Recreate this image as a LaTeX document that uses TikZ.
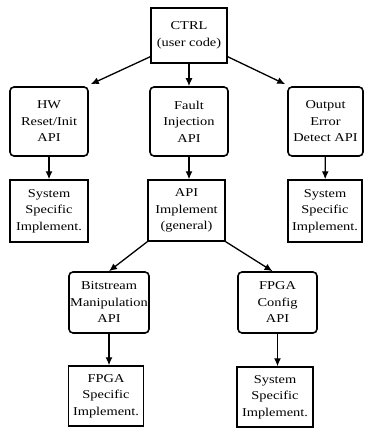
\documentclass[tikz,border=0pt]{standalone}
\usepackage{fontspec}
\setmainfont{Liberation Serif}[FakeStretch=1.2]
\usepackage{tikz}
\usetikzlibrary{arrows.meta}

\begin{document}
\begin{tikzpicture}[x=1pt, y=-1pt,
    box/.style={draw, line width=1.4pt, align=center, inner sep=1pt,
        font=\fontsize{12}{16.5}\selectfont},
    rbox/.style={box, rounded corners=4pt, line width=1.6pt},
    arr/.style={-{Latex[length=8pt,width=7pt]}, line width=1.3pt}]
                \useasboundingbox (0,0) rectangle (365,429);

                % Nodes
                \node[box, minimum width=76pt, minimum height=55pt] (ctrl) at (189,35.5) {CTRL\\(user code)};
                \node[rbox, minimum width=78pt, minimum height=69pt] (hw) at (49,121.5) {HW\\Reset/Init\\API};
                \node[rbox, minimum width=78pt, minimum height=69pt] (fault) at (189,121.5) {Fault\\Injection\\API};
                \node[rbox, minimum width=75pt, minimum height=69pt] (out) at (325.5,121.5) {Output\\Error\\Detect API};
                \node[box, minimum width=78pt, minimum height=62pt] (sysl) at (49,211) {System\\Specific\\Implement.};
                \node[box, minimum width=77pt, minimum height=61pt] (api) at (186.5,210.5) {API\\Implement\\(general)};
                \node[box, minimum width=74pt, minimum height=62pt] (sysr) at (325,211) {System\\Specific\\Implement.};
                \node[rbox, minimum width=80pt, minimum height=61pt, text width=78pt] (bit) at (109,302.5) {Bitstream\\Manipulation\\API};
                \node[rbox, minimum width=79pt, minimum height=61pt] (cfg) at (277.5,302.5) {FPGA\\Config\\API};
                \node[box, minimum width=75pt, minimum height=60pt] (fpgas) at (106,396) {FPGA\\Specific\\Implement.};
                \node[box, minimum width=76pt, minimum height=60pt] (sysb) at (275,397) {System\\Specific\\Implement.};

                % Edges
                \draw[arr] ([yshift=7pt]ctrl.south west)--([shift={(2pt,2pt)}]hw.north east);
                \draw[arr] (ctrl)--(fault);
                \draw[arr] ([yshift=7pt]ctrl.south east)--([shift={(-2pt,2pt)}]out.north west);
                \draw[arr] (hw)--(sysl);
                \draw[arr] (fault.south)--(fault.south |- api.north);
                \draw[arr] (out)--(sysr);
                \draw[arr] (api.south west)--(bit.north);
                \draw[arr] (api.south east)--([xshift=-5pt]cfg.north);
                \draw[arr] (bit)--(bit |- fpgas.north);
                \draw[arr] (cfg)--(cfg |- sysb.north);
            \end{tikzpicture}
\end{document}
